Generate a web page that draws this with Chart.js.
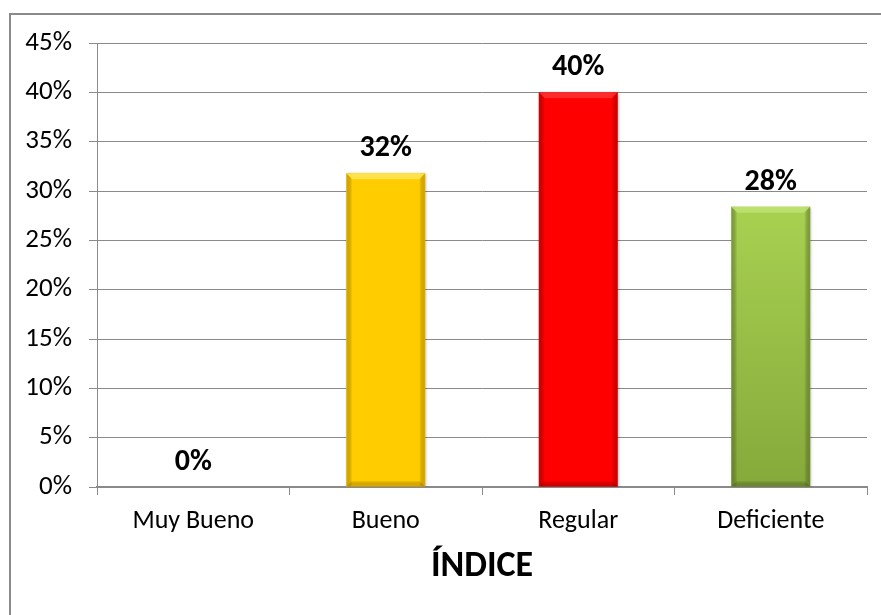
<!DOCTYPE html>
<html>
<head>
<meta charset="utf-8">
<script src="https://cdn.jsdelivr.net/npm/chart.js@4.4.1/dist/chart.umd.min.js"></script>
<style>
  html, body { margin: 0; padding: 0; background: #fff; overflow: hidden; }
  #wrap { position: absolute; left: 0; top: 0; width: 881px; height: 615px; }
  #frame { position: absolute; left: 9px; top: 13px; width: 900px; height: 640px; border: 2px solid #8a8a8a; }
  #grafico { position: absolute; left: 0; top: 0; }
</style>
</head>
<body>
<div id="wrap">
  <div id="frame"></div>
  <canvas id="grafico" width="881" height="615"></canvas>
</div>
<script>
const categorias = ['Muy Bueno', 'Bueno', 'Regular', 'Deficiente'];
const porcentajes = [0, 31.8, 40.0, 28.4];
const ticksY = [0, 5, 10, 15, 20, 25, 30, 35, 40, 45];

// colores de cada barra: base, claro (bisel superior), oscuro (bordes)
const colorBase = ['#ffcc00', '#ffcc00', '#ff0000', '#98c146'];
const colorClaro = ['rgba(255,230,80,0.9)', 'rgba(255,230,80,0.9)', 'rgba(255,70,70,0.6)', 'rgba(190,225,110,0.9)'];
const colorOscuro = ['rgba(200,150,0,0.55)', 'rgba(200,150,0,0.55)', 'rgba(150,0,0,0.45)', 'rgba(90,115,40,0.55)'];

const fuente = "Carlito, Calibri, Lato, 'Open Sans', sans-serif";

function fondoBarra(ctx) {
    const i = ctx.dataIndex;
    const chart = ctx.chart;
    if (i !== 3 || !chart.chartArea || !chart.scales.y) return colorBase[i];
    const yTop = chart.scales.y.getPixelForValue(porcentajes[i]);
    const yBase = chart.scales.y.getPixelForValue(0);
    if (!Number.isFinite(yTop) || !Number.isFinite(yBase) || yTop === yBase) return colorBase[i];
    const g = chart.ctx.createLinearGradient(0, yTop, 0, yBase);
    g.addColorStop(0, '#a8d151');
    g.addColorStop(1, '#86a93b');
    return g;
}

const bisel = {
    id: 'bisel',
    beforeDatasetDraw(chart) {
        const c = chart.ctx;
        c.save();
        c.shadowColor = 'rgba(0,0,0,0.3)';
        c.shadowBlur = 3;
        c.shadowOffsetX = 1;
        c.shadowOffsetY = 1;
    },
    afterDatasetDraw(chart) {
        const c = chart.ctx;
        c.restore();
        const meta = chart.getDatasetMeta(0);
        meta.data.forEach(function (bar, i) {
            const h = bar.base - bar.y;
            if (!(h > 2)) return;
            const x0 = bar.x - bar.width / 2;
            const x1 = bar.x + bar.width / 2;
            const t = bar.y;
            const b = bar.base;
            const e = 6;
            c.save();
            // lados
            let g = c.createLinearGradient(x0, 0, x0 + e, 0);
            g.addColorStop(0, colorOscuro[i]);
            g.addColorStop(1, 'rgba(0,0,0,0)');
            c.fillStyle = g;
            c.fillRect(x0, t, e, h);
            g = c.createLinearGradient(x1, 0, x1 - e, 0);
            g.addColorStop(0, colorOscuro[i]);
            g.addColorStop(1, 'rgba(0,0,0,0)');
            c.fillStyle = g;
            c.fillRect(x1 - e, t, e, h);
            // bisel inferior
            g = c.createLinearGradient(0, b, 0, b - e);
            g.addColorStop(0, colorOscuro[i]);
            g.addColorStop(1, 'rgba(0,0,0,0)');
            c.fillStyle = g;
            c.beginPath();
            c.moveTo(x0, b); c.lineTo(x1, b); c.lineTo(x1 - e, b - e); c.lineTo(x0 + e, b - e);
            c.closePath();
            c.fill();
            // bisel superior
            c.fillStyle = colorClaro[i];
            c.beginPath();
            c.moveTo(x0, t); c.lineTo(x1, t); c.lineTo(x1 - e, t + e); c.lineTo(x0 + e, t + e);
            c.closePath();
            c.fill();
            c.restore();
        });
    }
};

const etiquetas = {
    id: 'etiquetas',
    afterDatasetsDraw(chart) {
        const c = chart.ctx;
        const meta = chart.getDatasetMeta(0);
        c.save();
        c.font = 'bold 30px ' + fuente;
        c.fillStyle = '#000';
        c.textAlign = 'center';
        c.textBaseline = 'alphabetic';
        meta.data.forEach(function (bar, i) {
            c.fillText(Math.round(porcentajes[i]) + '%', bar.x, bar.y - 17);
        });
        c.restore();
    }
};

const data = {
    labels: categorias,
    datasets: [
        {
            label: 'Índice',
            data: porcentajes,
            backgroundColor: fondoBarra,
            borderWidth: 0,
            barPercentage: 0.41,
            categoryPercentage: 1
        }
    ]
};

const config = {
    type: 'bar',
    data: data,
    options: {
        responsive: false,
        animation: false,
        layout: {
            padding: { top: 43, right: 14, left: 0, bottom: 0 }
        },
        plugins: {
            legend: { display: false },
            title: { display: false },
            tooltip: { enabled: false }
        },
        scales: {
            x: {
                offset: true,
                grid: {
                    offset: true,
                    drawOnChartArea: false,
                    drawTicks: true,
                    tickLength: 8,
                    color: '#8a8a8a',
                    lineWidth: 1
                },
                border: { color: '#8a8a8a', width: 2 },
                ticks: {
                    color: '#000',
                    padding: 11,
                    font: { family: fuente, size: 26 }
                },
                title: {
                    display: true,
                    text: 'ÍNDICE',
                    color: '#000',
                    font: { family: fuente, size: 36, weight: 'bold' },
                    padding: { top: 0, bottom: 26 }
                },
                afterFit: function (scale) { scale.height = 128; }
            },
            y: {
                min: 0,
                max: 45,
                afterBuildTicks: function (scale) {
                    scale.ticks = ticksY.map(function (v) { return { value: v }; });
                },
                grid: {
                    color: '#8a8a8a',
                    lineWidth: 1,
                    tickLength: 8
                },
                border: { color: '#8a8a8a', width: 1 },
                ticks: {
                    color: '#000',
                    padding: 17,
                    font: { family: fuente, size: 27 },
                    callback: function (v) { return v + '%'; }
                },
                afterFit: function (scale) { scale.width = 97; }
            }
        }
    },
    plugins: [bisel, etiquetas]
};

const myChart = new Chart(
    document.getElementById('grafico'),
    config
);
</script>
</body>
</html>
